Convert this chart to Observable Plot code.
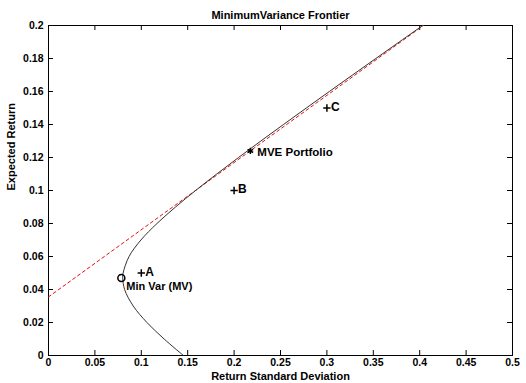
<!DOCTYPE html>
<html><head><meta charset="utf-8">
<script src="https://cdn.jsdelivr.net/npm/d3@7"></script>
<script src="https://cdn.jsdelivr.net/npm/@observablehq/plot@0.6"></script>
<style>body{margin:0;background:#fff}</style>
</head><body><div id="chart"></div>
<script>
// Frontier (expected return vs standard deviation)
const frontierMu    = [0, 0.01, 0.02, 0.03, 0.04, 0.047, 0.05, 0.06, 0.07, 0.08, 0.09, 0.10, 0.11, 0.12, 0.13, 0.14, 0.15, 0.16, 0.17, 0.18, 0.19, 0.20];
const frontierSigma = [0.1454, 0.1246, 0.1061, 0.0913, 0.0820, 0.0800, 0.0804, 0.0868, 0.0996, 0.1169, 0.1369, 0.1585, 0.1813, 0.2048, 0.2288, 0.2532, 0.2778, 0.3026, 0.3276, 0.3527, 0.3779, 0.4032];
// Tangent (capital market) line endpoints
const cmlSigma = [0, 0.404];
const cmlMu    = [0.0355, 0.2];
// Assets
const assetNames = ["A", "B", "C"];
const assetSigma = [0.1, 0.2, 0.3];
const assetMu    = [0.05, 0.1, 0.15];
// Special portfolios
const mvLabel = "Min Var (MV)", mvSigma = 0.0785, mvMu = 0.047;
const mveLabel = "MVE Portfolio", mveSigma = 0.2175, mveMu = 0.124;
// Ticks
const xTicks = [0, 0.05, 0.1, 0.15, 0.2, 0.25, 0.3, 0.35, 0.4, 0.45, 0.5];
const yTicks = [0, 0.02, 0.04, 0.06, 0.08, 0.1, 0.12, 0.14, 0.16, 0.18, 0.2];
const titleText = "MinimumVariance Frontier";
const xLabel = "Return Standard Deviation";
const yLabel = "Expected Return";

const frontier = frontierMu.map((m, i) => ({s: frontierSigma[i], m}));
const cml = cmlMu.map((m, i) => ({s: cmlSigma[i], m}));
const assets = assetNames.map((n, i) => ({n, s: assetSigma[i], m: assetMu[i]}));

const W = 526, H = 383, mL = 48, mR = 14, mT = 25, mB = 28;
const iw = W - mL - mR, ih = H - mT - mB;
const font = "'Liberation Sans', Arial, Helvetica, sans-serif";

const chart = Plot.plot({
  width: W, height: H,
  marginLeft: mL, marginRight: mR, marginTop: mT, marginBottom: mB,
  style: {fontFamily: font, fontSize: "10.5px", fontWeight: "bold", background: "#fff", color: "#000", overflow: "visible"},
  x: {domain: [0, 0.5]},
  y: {domain: [0, 0.2]},
  marks: [
    Plot.axisX({ticks: xTicks, tickSize: 0, tickPadding: 3, label: null, tickFormat: d => String(d)}),
    Plot.axisY({ticks: yTicks, tickSize: 0, tickPadding: 5, label: null, tickFormat: d => String(d)}),
    Plot.tickX(xTicks, {x: d => d, insetTop: ih - 5, stroke: "#000"}),
    Plot.tickX(xTicks, {x: d => d, insetBottom: ih - 5, stroke: "#000"}),
    Plot.tickY(yTicks, {y: d => d, insetRight: iw - 5, stroke: "#000"}),
    Plot.tickY(yTicks, {y: d => d, insetLeft: iw - 5, stroke: "#000"}),
    Plot.frame({stroke: "#000"}),
    Plot.line(cml, {x: "s", y: "m", stroke: "#e41010", strokeWidth: 1, strokeDasharray: "3,3"}),
    Plot.line(frontier, {x: "s", y: "m", stroke: "#333", strokeWidth: 1, curve: "catmull-rom"}),
    Plot.dot([{s: mvSigma, m: mvMu}], {x: "s", y: "m", r: 3.5, stroke: "#000", fill: "none"}),
    Plot.text([mvLabel], {x: () => mvSigma, y: () => mvMu, text: d => d, textAnchor: "start", dx: 5, dy: 9, fontSize: 11}),
    Plot.dot([{s: mveSigma, m: mveMu}], {x: "s", y: "m", r: 3, symbol: "asterisk", stroke: "#000"}),
    Plot.text([mveLabel], {x: () => mveSigma, y: () => mveMu, text: d => d, textAnchor: "start", dx: 7, dy: 1, fontSize: 11.5}),
    Plot.dot(assets, {x: "s", y: "m", r: 2.5, symbol: "plus", stroke: "#000"}),
    Plot.text(assets, {x: "s", y: "m", text: "n", textAnchor: "start", dx: 4, dy: -1, fontSize: 12}),
    Plot.text([titleText], {frameAnchor: "top", lineAnchor: "middle", dy: -10, text: d => d, fontSize: 11}),
    Plot.text([xLabel], {frameAnchor: "bottom", lineAnchor: "middle", dy: 21, text: d => d, fontSize: 11}),
    Plot.text([yLabel], {frameAnchor: "left", dx: -37, rotate: -90, text: d => d, fontSize: 11})
  ]
});
document.getElementById("chart").appendChild(chart);
</script>
</body></html>
